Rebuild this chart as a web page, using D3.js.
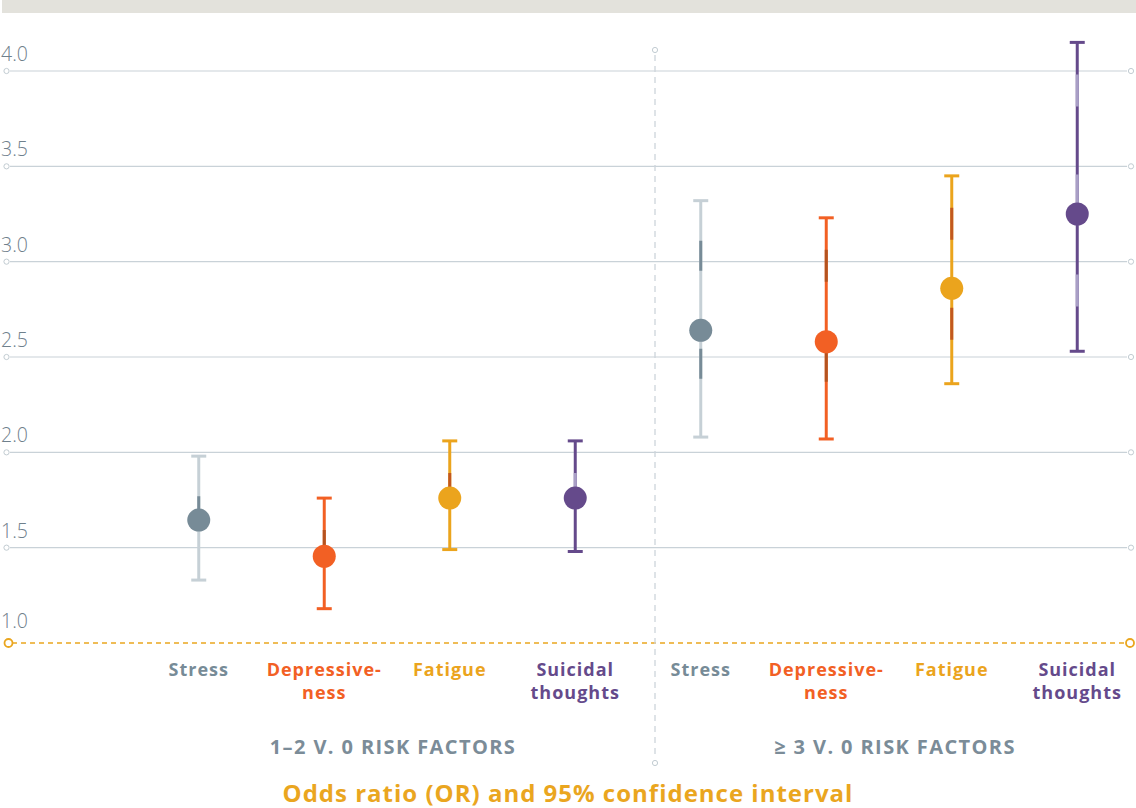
<!DOCTYPE html>
<html lang="en">
<head>
    <meta charset="UTF-8">
    <title>Odds ratio and 95% confidence interval</title>
    <style>
        body {
            margin: 0;
            padding: 0;
            background-color: #ffffff;
            font-family: "Open Sans", Arial, sans-serif;
        }
        .tick-label {
            font-weight: 300;
            font-size: 19.5px;
            fill: #6f808c;
        }
        .cat-label {
            font-weight: 700;
            font-size: 18px;
            letter-spacing: 1px;
        }
        .group-label {
            font-weight: 700;
            font-size: 20px;
            letter-spacing: 1.4px;
            fill: #7b8c98;
        }
        .title {
            font-weight: 700;
            font-size: 24px;
            letter-spacing: 1px;
            fill: #eaa61f;
        }
    </style>
    <script src="https://d3js.org/d3.v7.min.js"></script>
</head>
<body>
    <div id="chart"></div>

    <script>
        // values
        const groups = ["1–2 V. 0 RISK FACTORS", "≥ 3 V. 0 RISK FACTORS"];
        const categories = ["Stress", "Depressive-|ness", "Fatigue", "Suicidal|thoughts"];
        const orGroup1 = [1.645, 1.455, 1.76, 1.76];
        const lowGroup1 = [1.33, 1.18, 1.49, 1.48];
        const highGroup1 = [1.98, 1.76, 2.06, 2.06];
        const orGroup2 = [2.64, 2.58, 2.86, 3.25];
        const lowGroup2 = [2.08, 2.07, 2.36, 2.53];
        const highGroup2 = [3.32, 3.23, 3.45, 4.15];
        const yTicks = [1.0, 1.5, 2.0, 2.5, 3.0, 3.5, 4.0];
        const titleText = "Odds ratio (OR) and 95% confidence interval";

        const colors = ["#778b97", "#f26024", "#eba41d", "#654a8b"];
        // stress whisker is mostly light with dark pieces, purple the other way round
        const baseColors = ["#c6d0d6", "#f26024", "#eba41d", "#654a8b"];
        const overColors = ["#778b97", "#b4531f", "#c2581f", "#a99fc6"];

        const width = 1136, height = 808;
        const svg = d3.select("#chart")
            .append("svg")
            .attr("width", width)
            .attr("height", height);

        // top band
        svg.append("rect")
            .attr("x", 2).attr("y", 0)
            .attr("width", width - 2).attr("height", 13)
            .attr("fill", "#e3e2dc");

        const y = d3.scaleLinear()
            .domain([1, 4])
            .range([643, 71]);

        // one band per group, one slot per category
        const xGroup = d3.scaleBand()
            .domain(groups)
            .range([136, 1140]);
        const xCat = d3.scaleBand()
            .domain(categories)
            .range([0, xGroup.bandwidth()]);

        const xPos = (g, c) => xGroup(g) + xCat(c) + xCat.bandwidth() / 2;

        // gridlines
        const grid = svg.append("g");
        yTicks.filter(t => t > 1).forEach(t => {
            grid.append("line")
                .attr("x1", 10).attr("x2", 1127)
                .attr("y1", y(t)).attr("y2", y(t))
                .attr("stroke", "#c9d2d8").attr("stroke-width", 1.2);
            [6.5, 1131].forEach(cx => {
                grid.append("circle")
                    .attr("cx", cx).attr("cy", y(t)).attr("r", 2.6)
                    .attr("fill", "#fff").attr("stroke", "#c2ccd2").attr("stroke-width", 1);
            });
        });

        // baseline 1.0
        grid.append("line")
            .attr("x1", 12).attr("x2", 1125)
            .attr("y1", y(1)).attr("y2", y(1))
            .attr("stroke", "#eaa61f").attr("stroke-width", 1.6)
            .attr("stroke-dasharray", "5 4");
        [8.5, 1130].forEach(cx => {
            grid.append("circle")
                .attr("cx", cx).attr("cy", y(1)).attr("r", 4)
                .attr("fill", "#fff").attr("stroke", "#eaa61f").attr("stroke-width", 1.8);
        });

        // tick labels
        svg.selectAll(".tick-label")
            .data(yTicks)
            .enter().append("text")
            .attr("class", "tick-label")
            .attr("x", 1)
            .attr("y", d => y(d) - (d === 1 ? 15 : 10))
            .text(d => d.toFixed(1));

        // group divider
        const divX = xGroup(groups[1]) + 17;
        svg.append("line")
            .attr("x1", divX).attr("x2", divX)
            .attr("y1", 55).attr("y2", 758)
            .attr("stroke", "#cdd5da").attr("stroke-width", 1.3)
            .attr("stroke-dasharray", "6 5");
        [50, 763].forEach(cy => {
            svg.append("circle")
                .attr("cx", divX).attr("cy", cy).attr("r", 2.6)
                .attr("fill", "#fff").attr("stroke", "#c2ccd2").attr("stroke-width", 1);
        });

        const series = [
            { g: groups[0], or: orGroup1, lo: lowGroup1, hi: highGroup1, labelX: 393 },
            { g: groups[1], or: orGroup2, lo: lowGroup2, hi: highGroup2, labelX: 895 }
        ];

        const marks = svg.append("g");
        series.forEach(s => {
            categories.forEach((c, i) => {
                const cx = xPos(s.g, c);
                const yHi = y(s.hi[i]), yLo = y(s.lo[i]);
                marks.append("line")
                    .attr("x1", cx).attr("x2", cx)
                    .attr("y1", yHi).attr("y2", yLo)
                    .attr("stroke", baseColors[i]).attr("stroke-width", 3);
                // darker/lighter pieces along the whisker
                marks.append("line")
                    .attr("x1", cx).attr("x2", cx)
                    .attr("y1", yHi + 2).attr("y2", yLo - 2)
                    .attr("stroke", overColors[i]).attr("stroke-width", 3)
                    .attr("stroke-dasharray", i === 0 ? "0 38 30 40" : "0 30 32 38");
                [yHi, yLo].forEach(yy => {
                    marks.append("line")
                        .attr("x1", cx - 7.5).attr("x2", cx + 7.5)
                        .attr("y1", yy).attr("y2", yy)
                        .attr("stroke", baseColors[i]).attr("stroke-width", 3);
                });
                marks.append("circle")
                    .attr("cx", cx).attr("cy", y(s.or[i]))
                    .attr("r", 11.5)
                    .attr("fill", colors[i]);
            });

            // category labels
            categories.forEach((c, i) => {
                const t = svg.append("text")
                    .attr("class", "cat-label")
                    .attr("text-anchor", "middle")
                    .attr("fill", colors[i]);
                c.split("|").forEach((line, k) => {
                    t.append("tspan")
                        .attr("x", xPos(s.g, c))
                        .attr("y", 676 + k * 23)
                        .text(line);
                });
            });

            svg.append("text")
                .attr("class", "group-label")
                .attr("text-anchor", "middle")
                .attr("x", s.labelX)
                .attr("y", 754)
                .text(s.g);
        });

        svg.append("text")
            .attr("class", "title")
            .attr("text-anchor", "middle")
            .attr("x", 568)
            .attr("y", 802)
            .text(titleText);
    </script>
</body>
</html>
